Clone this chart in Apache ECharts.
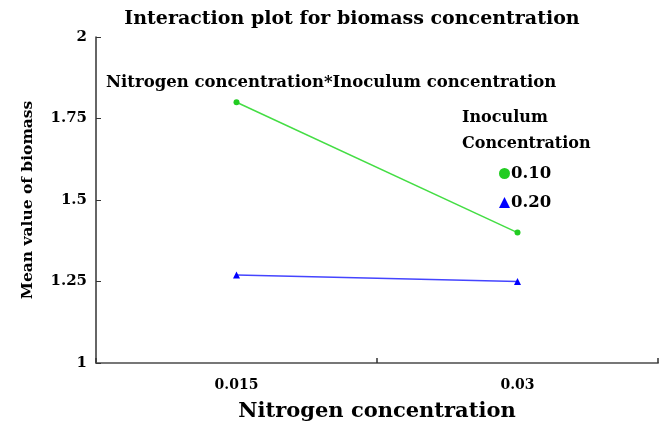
<!DOCTYPE html>
<html><head><meta charset="utf-8">
<script src="https://cdn.jsdelivr.net/npm/echarts@6/dist/echarts.min.js"></script>
<style>html,body{margin:0;padding:0;background:#fff}#c{width:664px;height:431px}</style>
</head><body><div id="c"></div>
<script>
var categories = ['0.015', '0.03'];
var seriesNames = ['0.10', '0.20'];
var inoc010 = [1.80, 1.40];
var inoc020 = [1.27, 1.25];
var yTicks = [1, 1.25, 1.5, 1.75, 2];

var F = 'DejaVu Serif';
var chart = echarts.init(document.getElementById('c'));
chart.setOption({
  animation: false,
  backgroundColor: '#fff',
  title: [
    {text: 'Interaction plot for biomass concentration', left: 347, top: 5, textAlign: 'center',
     textStyle: {fontFamily: F, fontWeight: 'bold', fontSize: 19, color: '#000'}},
    {text: 'Nitrogen concentration*Inoculum concentration', left: 101, top: 69,
     textStyle: {fontFamily: F, fontWeight: 'bold', fontSize: 16.5, color: '#000'}},
    {text: 'Inoculum', left: 457, top: 105,
     textStyle: {fontFamily: F, fontWeight: 'bold', fontSize: 16, color: '#000'}},
    {text: 'Concentration', left: 457, top: 131,
     textStyle: {fontFamily: F, fontWeight: 'bold', fontSize: 16, color: '#000'}}
  ],
  legend: {
    orient: 'vertical', left: 494, top: 160, itemGap: 12, itemWidth: 11, itemHeight: 11,
    itemStyle: {borderWidth: 0},
    textStyle: {fontFamily: F, fontWeight: 'bold', fontSize: 16.5, color: '#000', padding: [0,0,0,-4]},
    data: [{name: seriesNames[0], icon: 'circle'}, {name: seriesNames[1], icon: 'triangle'}]
  },
  grid: {left: 96, right: 6, top: 37, bottom: 68},
  xAxis: {
    type: 'category', data: categories, boundaryGap: true,
    name: 'Nitrogen concentration', nameLocation: 'middle', nameGap: 38,
    nameTextStyle: {fontFamily: F, fontWeight: 'bold', fontSize: 21, color: '#000'},
    axisLine: {lineStyle: {color: '#777', width: 2}},
    axisTick: {show: true, inside: true, length: 5, lineStyle: {color: '#333', width: 1.5}},
    axisLabel: {fontFamily: F, fontWeight: 'bold', fontSize: 14, color: '#000', margin: 15, interval: 0}
  },
  yAxis: {
    type: 'value', min: yTicks[0], max: yTicks[yTicks.length-1], interval: 0.25,
    name: 'Mean value of biomass', nameLocation: 'middle', nameGap: 60,
    nameTextStyle: {fontFamily: F, fontWeight: 'bold', fontSize: 15.5, color: '#000'},
    axisLine: {show: true, lineStyle: {color: '#333', width: 1.5}},
    axisTick: {show: true, inside: true, length: 5, lineStyle: {color: '#333'}},
    splitLine: {show: false},
    axisLabel: {fontFamily: F, fontWeight: 'bold', fontSize: 15, color: '#000', margin: 9,
      formatter: function(v){ return String(v); }}
  },
  series: [
    {name: seriesNames[0], type: 'line', data: inoc010, symbol: 'circle', symbolSize: 6,
     lineStyle: {color: '#44dd44', width: 1.5}, itemStyle: {color: '#22cc22'}},
    {name: seriesNames[1], type: 'line', data: inoc020, symbol: 'triangle', symbolSize: 7,
     lineStyle: {color: '#4444ff', width: 1.5}, itemStyle: {color: '#0000ff'}}
  ]
});
</script></body></html>
